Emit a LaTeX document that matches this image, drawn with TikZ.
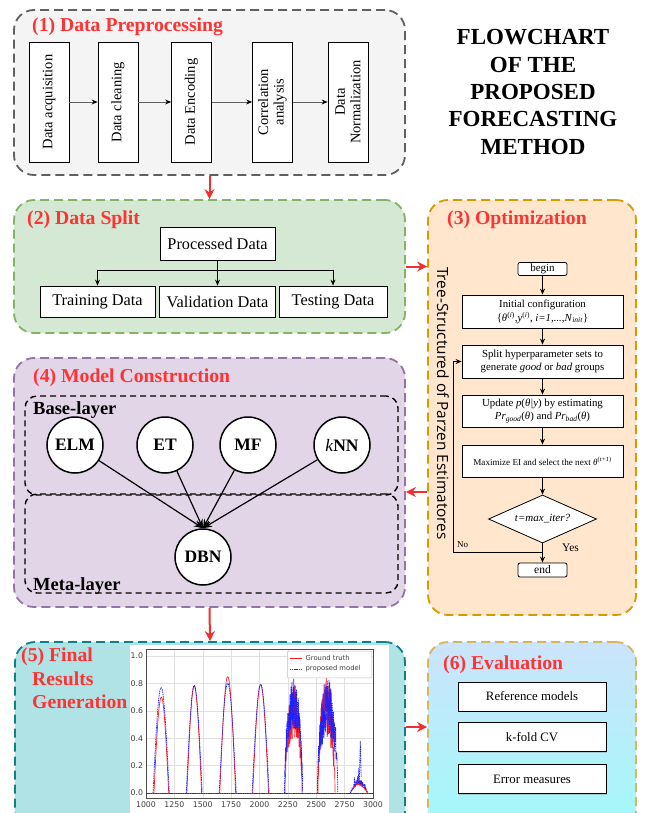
\documentclass[tikz,border=0pt]{standalone}
\usepackage{fontspec}
\setmainfont{Liberation Serif}
\newfontfamily\osans{Open Sans}
\newfontfamily\dvs{DejaVu Sans}
\usetikzlibrary{arrows.meta,shapes.geometric,shadows,calc}
\definecolor{titred}{HTML}{FF3333}
\definecolor{arrred}{HTML}{F03030}
\definecolor{grayfill}{HTML}{F4F4F4}
\definecolor{graydraw}{HTML}{606060}
\definecolor{greenfill}{HTML}{D5E8D4}
\definecolor{greendraw}{HTML}{82B366}
\definecolor{orfill}{HTML}{FFE6CC}
\definecolor{ordraw}{HTML}{D79B00}
\definecolor{purfill}{HTML}{E1D5E7}
\definecolor{purdraw}{HTML}{9673A6}
\definecolor{tealfill}{HTML}{B0E3E6}
\definecolor{tealdraw}{HTML}{0E8088}
\definecolor{evtop}{HTML}{CCE4FB}
\definecolor{evbot}{HTML}{A0FAFA}
\definecolor{evdraw}{HTML}{D6B656}
\definecolor{gtred}{HTML}{FF2020}
\definecolor{pmblue}{HTML}{2020FF}
\tikzset{
  cont/.style={rounded corners=20pt, line width=1.8pt, dash pattern=on 9pt off 5pt, inner sep=0pt},
  ttl/.style={text=titred, font=\bfseries\fontsize{19.7}{23.5}\selectfont, anchor=base west, inner sep=0pt},
  redarr/.style={draw=arrred, line width=2pt, -{Stealth[length=10pt,width=10pt]}},
  pbox/.style={draw, fill=white, rotate=90, minimum width=120pt, minimum height=40pt, align=center, font=\fontsize{14.5}{15.5}\selectfont, inner sep=1pt, line width=0.8pt},
  parr/.style={draw=graydraw, line width=0.8pt, -{Stealth[length=6pt,width=5pt,color=black]}},
  dbox/.style={draw, fill=white, font=\fontsize{16.3}{18}\selectfont, inner sep=0pt, line width=0.8pt},
  fbox/.style={draw, fill=white, minimum width=161pt, align=center, font=\fontsize{10.8}{12.8}\selectfont, inner sep=1pt, line width=0.8pt},
  farr/.style={line width=0.8pt, -{Stealth[length=6pt,width=5pt]}},
  circ/.style={circle, draw, fill=white, line width=1.5pt, minimum size=56pt, inner sep=0pt, font=\bfseries\fontsize{17.5}{19}\selectfont},
  layer/.style={draw, rounded corners=12pt, line width=1.4pt, dash pattern=on 6pt off 4pt, inner sep=0pt},
  llab/.style={font=\bfseries\fontsize{18.5}{20}\selectfont, anchor=base west, inner sep=0pt},
  marr/.style={line width=1.2pt, -{Stealth[length=9pt,width=7pt]}},
  ebox/.style={draw, fill=white, minimum width=148pt, minimum height=29pt, inner sep=0pt, font=\fontsize{12.8}{14}\selectfont, line width=0.8pt, drop shadow={shadow xshift=1.2pt, shadow yshift=-1.2pt, opacity=0.35}},
  gt/.style={draw=gtred, line width=0.7pt},
  pm/.style={draw=pmblue, line width=0.7pt, dash pattern=on 1.5pt off 0.8pt},
  tick/.style={font=\dvs\fontsize{7.8}{8}\selectfont, text=black!75, inner sep=0pt},
  legt/.style={font=\dvs\fontsize{6.8}{7}\selectfont, text=black!75, inner sep=0pt, anchor=west},
}
\begin{document}
\begin{tikzpicture}[x=1pt,y=-1pt]
\useasboundingbox (0,0) rectangle (645,813);
\clip (0,0) rectangle (645,813);
\fill[white] (0,0) rectangle (645,813);

% ---------------- containers
\node[cont, fill=grayfill, draw=graydraw, minimum width=391pt, minimum height=165pt] (p1) at (209.5,92.5) {};
\node[cont, fill=greenfill, draw=greendraw, minimum width=391pt, minimum height=133pt] (p2) at (209.5,266.5) {};
\node[cont, fill=orfill, draw=ordraw, minimum width=208pt, minimum height=415pt] (p3) at (532,407.5) {};
\node[cont, fill=purfill, draw=purdraw, minimum width=391pt, minimum height=249pt] (p4) at (209.5,482.5) {};
\node[cont, fill=tealfill, draw=tealdraw, minimum width=390pt, minimum height=198pt] (p5) at (210,741) {};
\node[cont, top color=evtop, bottom color=evbot, draw=evdraw, minimum width=208pt, minimum height=198pt] (p6) at (532,741) {};

% ---------------- titles
\node[ttl] (t1) at (32,32) {(1) Data Preprocessing};
\node[ttl] (t2) at (27,224) {(2) Data Split};
\node[ttl] (t3) at (447,224) {(3) Optimization};
\node[ttl] (t4) at (33,382) {(4) Model Construction};
\node[ttl, align=left, anchor=north west] (t5) at (21,648) {(5) Final\\\hspace*{11pt}Results\\\hspace*{11pt}Generation};
\node[ttl] (t6) at (443,669) {(6) Evaluation};

\node[font=\bfseries\fontsize{23}{27.3}\selectfont, align=center, inner sep=0pt] (maintitle) at (533,92) {FLOWCHART\\OF THE\\PROPOSED\\FORECASTING\\METHOD};

% ---------------- red arrows between stages
\draw[redarr] (p1.south) -- (p2.north);
\draw[redarr] (p2.east) -- (p2.east -| p3.west);
\draw[redarr] ([yshift=-84.5pt]p3.west) coordinate (a3) -- (a3 -| p4.east);
\draw[redarr] (p4.south) -- (p5.north);
\draw[redarr] ([yshift=14pt]p5.east) coordinate (a5) -- (a5 -| p6.west);

% ---------------- (1) preprocessing
\node[pbox] (b1) at (49,102) {Data acquisition};
\node[pbox] (b2) at (118,102) {Data cleaning};
\node[pbox] (b3) at (191.5,102) {Data Encoding};
\node[pbox] (b4) at (272.5,102) {Correlation\\analysis};
\node[pbox] (b5) at (348,102) {Data\\Normalization};
\draw[parr] (b1) -- (b2);
\draw[parr] (b2) -- (b3);
\draw[parr] (b3) -- (b4);
\draw[parr] (b4) -- (b5);

% ---------------- (2) data split
\node[dbox, minimum width=115pt, minimum height=33pt] (proc) at (217.5,243.5) {Processed Data};
\node[dbox, minimum width=115pt, minimum height=31pt] (train) at (97.5,301.5) {Training Data};
\node[dbox, minimum width=116pt, minimum height=31pt] (valid) at (217.5,301.5) {Validation Data};
\node[dbox, minimum width=108pt, minimum height=31pt] (test) at (333,301.5) {Testing Data};
\coordinate (sj) at (217.5,270);
\draw[line width=0.8pt] (proc.south) -- (sj);
\draw[farr] (sj) -| (train.north);
\draw[farr] (sj) -- (valid.north);
\draw[farr] (sj) -| (test.north);

% ---------------- (3) optimization
\node[rotate=-90, font=\osans\fontsize{15.4}{17}\selectfont, inner sep=0pt] (tpe) at (443,403.5) {Tree-Structured of Parzen Estimatores};
\node[draw, fill=white, rounded corners=2pt, minimum width=49pt, minimum height=13pt, inner sep=0pt, font=\fontsize{11}{12}\selectfont, line width=0.8pt] (begin) at (542.5,269) {begin};
\node[fbox, minimum height=33pt] (init) at (542.5,311.5) {Initial configuration\\[1pt]\{\textit{θ}\textsuperscript{(\textit{i})},\textit{y}\textsuperscript{(\textit{i})}, \textit{i=1,...,N}\textsubscript{\textit{init}}\}};
\node[fbox, minimum height=33pt] (split) at (542.5,361.5) {Split hyperparameter sets to\\generate \textit{good} or \textit{bad} groups};
\node[fbox, minimum height=32pt] (update) at (542.5,411) {Update \textit{p}(\textit{θ|y}) by estimating\\\textit{Pr}\textsubscript{\textit{good}}(\textit{θ}) and \textit{Pr}\textsubscript{\textit{bad}}(\textit{θ})};
\node[fbox, minimum height=32pt, font=\fontsize{9.1}{10}\selectfont] (maxim) at (542.5,461) {Maximize EI and select the next \textit{θ}\textsuperscript{(\textit{t+1})}};
\node[diamond, draw, fill=white, minimum width=108pt, minimum height=48pt, inner sep=0pt, aspect=2.25, font=\itshape\fontsize{11}{12}\selectfont, line width=0.8pt] (dia) at (542.5,519) {t=max\_iter?};
\node[draw, fill=white, rounded corners=2pt, minimum width=49pt, minimum height=14pt, inner sep=0pt, font=\fontsize{11.5}{12}\selectfont, line width=0.8pt] (end) at (542.5,570) {end};
\draw[farr] (begin) -- (init);
\draw[farr] (init) -- (split);
\draw[farr] (split) -- (update);
\draw[farr] (update) -- (maxim);
\draw[farr] (maxim) -- (dia);
\draw[farr] (dia) -- (end);
\coordinate (j) at (542.5,552);
\coordinate (lp) at (453,552);
\draw[farr] (j) -- (lp) |- (split.west);
\node[font=\fontsize{9}{10}\selectfont, anchor=base west, inner sep=0pt] (no) at (457,547) {No};
\node[font=\fontsize{11.5}{12}\selectfont, anchor=base west, inner sep=0pt] (yes) at (562,551) {Yes};

% ---------------- (4) model construction
\node[layer, minimum width=373pt, minimum height=99pt] (base) at (211.5,445.5) {};
\node[layer, minimum width=373pt, minimum height=99pt] (meta) at (211.5,543.5) {};
\node[llab] (basel) at (33,414) {Base-layer};
\node[llab] (metal) at (33,590) {Meta-layer};
\node[circ] (elm) at (75,445) {ELM};
\node[circ] (et) at (165,445) {ET};
\node[circ] (mf) at (248,445) {MF};
\node[circ] (knn) at (342,445) {{\mdseries\itshape k}NN};
\node[circ] (dbn) at (203,557) {DBN};
\draw[marr] (elm) -- (dbn.north);
\draw[marr] (et) -- (dbn.north);
\draw[marr] (mf) -- (dbn.north);
\draw[marr] (knn) -- (dbn.north);

% ---------------- (5) chart
\fill[white] (130,645) rectangle (389,830);
\begin{scope}[shift={(146,793)}, x=0.1135pt, y=137pt]
  \foreach \v in {0,250,...,2000} \draw[black!12, line width=0.5pt] (\v,-0.04) -- (\v,1.05);
  \foreach \v in {0,0.2,0.4,0.6,0.8,1.0} \draw[black!12, line width=0.5pt] (0,\v) -- (2000,\v);
  \draw[black!70, line width=0.8pt] (0,-0.04) rectangle (2000,1.05);
  \foreach \v/\l in {0/1000,250/1250,500/1500,750/1750,1000/2000,1250/2250,1500/2500,1750/2750,2000/3000}
    \node[tick, anchor=north] at (\v,-0.06) {\l};
  \foreach \v/\l in {0/0.0,0.2/0.2,0.4/0.4,0.6/0.6,0.8/0.8,1.0/1.0}
    \node[tick, anchor=east] at (-25,\v) {\l};
  \begin{scope}
  \clip (0,-0.04) rectangle (2000,1.05);
  % baselines
  \draw[gt] (0,0) -- (2000,0);
  \draw[pm] (0,0) -- (2000,0);
  % smooth humps
  \foreach \a/\b/\h in {70/200/0.70, 360/490/0.78, 650/790/0.85, 940/1080/0.79}
    \draw[gt] plot[domain=\a:\b, samples=40, smooth] (\x,{\h*sin((\x-\a)/(\b-\a)*180)});
  \foreach \a/\b/\h in {62/205/0.77, 355/495/0.785, 645/795/0.80, 935/1085/0.795}
    \draw[pm] plot[domain=\a:\b, samples=40, smooth] (\x,{\h*sin((\x-\a)/(\b-\a)*180)});
  \pgfmathsetseed{7}
  \draw[gt] plot[domain=1225:1375, samples=100] (\x,{0.80*sqrt(abs(sin((\x-1225)/150*180)))*(1-0.5*rnd)});
  \draw[pm] plot[domain=1220:1380, samples=130] (\x,{0.84*sqrt(abs(sin((\x-1220)/160*180)))*(1-0.45*rnd)});
  \draw[gt] plot[domain=1515:1665, samples=100] (\x,{0.86*sqrt(abs(sin((\x-1515)/150*180)))*(1-0.55*rnd)});
  \draw[pm] plot[domain=1510:1690, samples=130] (\x,{0.84*sqrt(abs(sin((\x-1510)/180*180)))*(1-0.5*rnd)});
  \draw[gt] plot[domain=1800:1950, samples=60] (\x,{sin((\x-1800)/150*180)*(0.06+0.16*rnd*rnd*rnd*rnd)});
  \draw[pm] plot[domain=1800:1955, samples=70] (\x,{sin((\x-1800)/155*180)*(0.07+0.22*rnd*rnd*rnd*rnd)});
  \draw[pm] (1880,0.1) -- (1888,0.38) -- (1896,0.12);
  \end{scope}
  % legend
  \draw[black!25, fill=white, line width=0.5pt, rounded corners=1pt] (1245,1.035) rectangle (1990,0.84);
  \draw[gt] (1265,0.985) -- (1375,0.985);
  \draw[pm] (1265,0.905) -- (1375,0.905);
  \node[legt] at (1405,0.985) {Ground truth};
  \node[legt] at (1405,0.905) {proposed model};
\end{scope}

% ---------------- (6) evaluation
\node[ebox] (ref) at (532,696.5) {Reference models};
\node[ebox] (kf) at (532,737) {k-fold CV};
\node[ebox] (err) at (532,779) {Error measures};
\end{tikzpicture}
\end{document}
